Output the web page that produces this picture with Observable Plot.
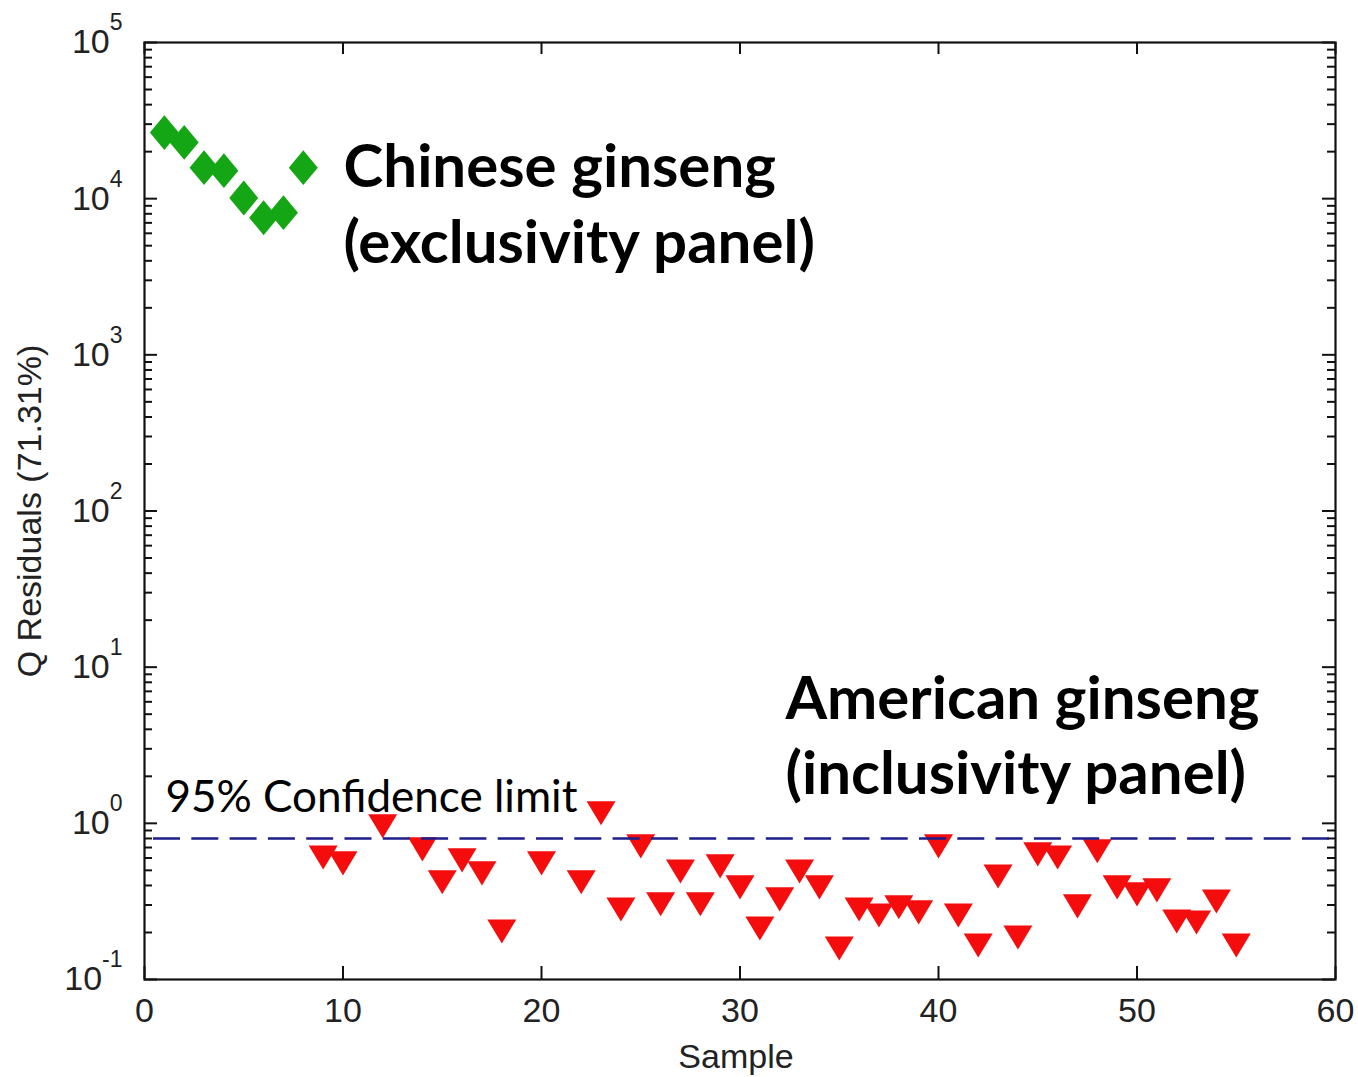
<!DOCTYPE html>
<html>
<head>
<meta charset="utf-8">
<script src="https://cdn.jsdelivr.net/npm/d3@7"></script>
<script src="https://cdn.jsdelivr.net/npm/@observablehq/plot@0.6"></script>
<style>
  html, body { margin: 0; padding: 0; background: #fff; }
  #chart { width: 1358px; height: 1077px; }
</style>
</head>
<body>
<div id="chart"></div>
<script>
// ---- Data ----
const chineseSample = [1, 2, 3, 4, 5, 6, 7, 8];
const chineseQ = [26500, 22900, 15800, 15100, 10100, 7550, 8130, 15800];

const americanSample = [9, 10, 12, 14, 15, 16, 17, 18, 20, 22, 23, 24, 25, 26, 27, 28, 29, 30, 31, 32,
  33, 34, 35, 36, 37, 38, 39, 40, 41, 42, 43, 44, 45, 46, 47, 48, 49, 50, 51, 52, 53, 54, 55];
const americanQ = [0.605, 0.554, 0.957, 0.681, 0.419, 0.579, 0.478, 0.203, 0.554, 0.419, 1.16, 0.281,
  0.712, 0.303, 0.492, 0.303, 0.530, 0.389, 0.212, 0.326, 0.492, 0.389, 0.158, 0.281, 0.257, 0.290,
  0.269, 0.712, 0.257, 0.165, 0.457, 0.186, 0.633, 0.605, 0.294, 0.662, 0.389, 0.351, 0.372, 0.235,
  0.232, 0.316, 0.165];

const confidenceLimit = [0.80];

const xTicks = [0, 10, 20, 30, 40, 50, 60];
const yTicks = [0.1, 1, 10, 100, 1000, 10000, 100000];

const panelLabels = ["Chinese ginseng", "(exclusivity panel)", "American ginseng", "(inclusivity panel)"];
const panelLabelSample = [10.03, 10.03, 32.29, 32.29];
const panelLabelQ = [11940, 3890, 4.64, 1.535];

const limitLabels = ["95% Confidence limit"];
const limitLabelSample = [1.06];
const limitLabelQ = [1.19];

const xLabel = ["Sample"];
const yLabel = ["Q Residuals (71.31%)"];

// ---- Layout ----
const W = 1358, H = 1077;
const mL = 144, mR = 23, mT = 42, mB = 98;
const innerW = W - mL - mR, innerH = H - mT - mB;

// minor log ticks
const yMinor = [];
for (const p of [-1, 0, 1, 2, 3, 4]) for (let m = 2; m <= 9; m++) yMinor.push(m * Math.pow(10, p));

// custom MATLAB-like markers
const diamond = {
  draw(ctx, size) {
    const r = Math.sqrt(size / Math.PI), h = r * 1.2;
    ctx.moveTo(0, -h); ctx.lineTo(r, 0); ctx.lineTo(0, h); ctx.lineTo(-r, 0); ctx.closePath();
  }
};
const triDown = {
  draw(ctx, size) {
    const r = Math.sqrt(size / Math.PI), h = r * 0.83;
    ctx.moveTo(-r, -h); ctx.lineTo(r, -h); ctx.lineTo(0, h); ctx.closePath();
  }
};

const chinese = chineseSample.map((s, i) => ({sample: s, q: chineseQ[i]}));
const american = americanSample.map((s, i) => ({sample: s, q: americanQ[i]}));

const axisFont = "'Liberation Sans', Arial, sans-serif";
const annFont = "Lato, 'Open Sans', sans-serif";

const chart = Plot.plot({
  width: W, height: H,
  marginLeft: mL, marginRight: mR, marginTop: mT, marginBottom: mB,
  style: {background: "#fff", fontFamily: axisFont, color: "#222", overflow: "visible"},
  x: {domain: [0, 60], label: null},
  y: {type: "log", domain: [0.1, 100000], label: null},
  marks: [
    // ticks inside the box
    Plot.tickY(yTicks, {y: d => d, insetRight: innerW - 13, stroke: "#111", strokeWidth: 2}),
    Plot.tickY(yTicks, {y: d => d, insetLeft: innerW - 13, stroke: "#111", strokeWidth: 2}),
    Plot.tickY(yMinor, {y: d => d, insetRight: innerW - 8, stroke: "#111", strokeWidth: 2}),
    Plot.tickY(yMinor, {y: d => d, insetLeft: innerW - 8, stroke: "#111", strokeWidth: 2}),
    Plot.tickX(xTicks, {x: d => d, insetTop: innerH - 13, stroke: "#111", strokeWidth: 2}),
    Plot.tickX(xTicks, {x: d => d, insetBottom: innerH - 12, stroke: "#111", strokeWidth: 2}),
    Plot.axisX({ticks: xTicks, tickSize: 0, tickPadding: 18, fontSize: 34, label: null, tickFormat: d => String(d)}),
    Plot.axisY({ticks: yTicks, tickSize: 0, tickPadding: 22, fontSize: 34, label: null,
      tickFormat: d => String(Math.round(Math.log10(d)))}),
    // data
    Plot.dot(chinese, {x: "sample", y: "q", r: 14.5, symbol: diamond, fill: "#14a614", stroke: null}),
    Plot.dot(american, {x: "sample", y: "q", r: 14.5, symbol: triDown, fill: "#f50d0d", stroke: null}),
    Plot.ruleY(confidenceLimit, {stroke: "#1d1d8c", strokeWidth: 2.5, strokeDasharray: "27,11.3", strokeDashoffset: -9}),
    Plot.frame({stroke: "#111", strokeWidth: 2.2}),
    // annotations
    Plot.text(panelLabels, {x: (d, i) => panelLabelSample[i], y: (d, i) => panelLabelQ[i], text: d => d,
      textAnchor: "start", lineAnchor: "bottom", fontSize: 60, fontWeight: 700, fontFamily: annFont, fill: "#000"}),
    Plot.text(limitLabels, {x: (d, i) => limitLabelSample[i], y: (d, i) => limitLabelQ[i], text: d => d,
      textAnchor: "start", lineAnchor: "bottom", fontSize: 44, fontFamily: annFont, fill: "#000"}),
    // axis titles
    Plot.text(xLabel, {frameAnchor: "bottom", dy: 88, dx: -4, lineAnchor: "bottom", fontSize: 34, fill: "#222"}),
    Plot.text(yLabel, {frameAnchor: "left", dx: -114, rotate: -90, textAnchor: "middle", lineAnchor: "middle",
      fontSize: 34, fill: "#222", letterSpacing: "1px"})
  ]
});

// render y tick labels as 10 with a real superscript exponent
chart.querySelectorAll('[aria-label="y-axis tick label"] text').forEach(t => {
  const exp = t.textContent;
  t.textContent = "";
  const base = document.createElementNS("http://www.w3.org/2000/svg", "tspan");
  base.textContent = "10";
  const s = document.createElementNS("http://www.w3.org/2000/svg", "tspan");
  s.textContent = exp;
  s.setAttribute("font-size", "23");
  s.setAttribute("dy", "-23");
  t.appendChild(base);
  t.appendChild(s);
});

document.getElementById("chart").appendChild(chart);
</script>
</body>
</html>
